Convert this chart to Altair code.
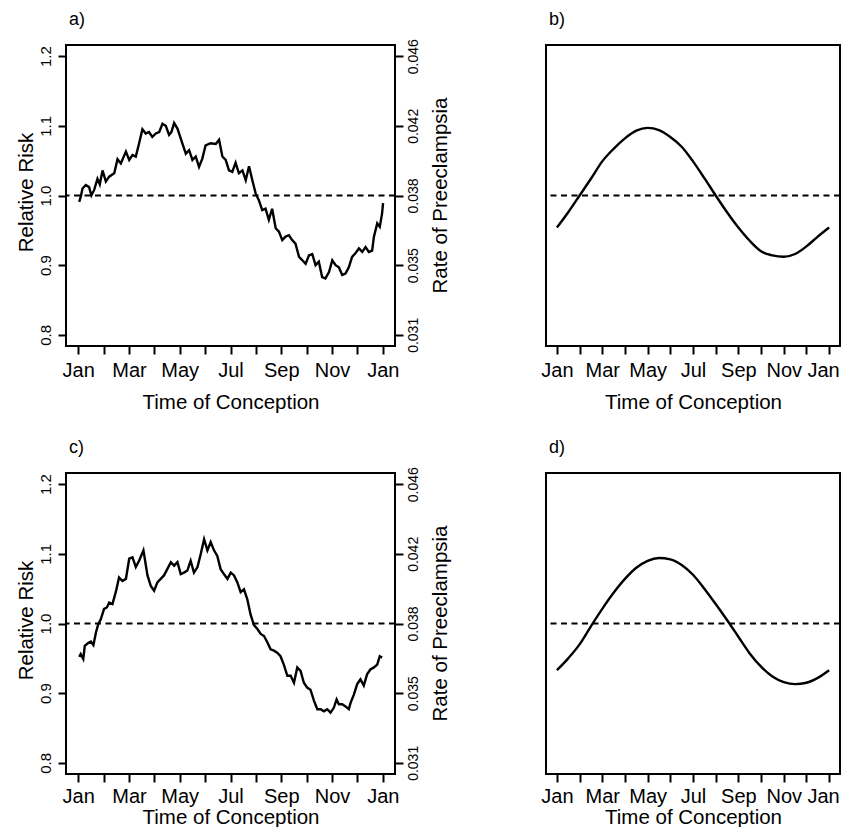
import json
import altair as alt
import pandas as pd

FONT = "Liberation Sans"

months = ["Jan", "Feb", "Mar", "Apr", "May", "Jun", "Jul", "Aug", "Sep", "Oct", "Nov", "Dec", "Jan"]
month_ticks = [0, 1, 2, 3, 4, 5, 6, 7, 8, 9, 10, 11, 12]
rr_ticks = [0.8, 0.9, 1.0, 1.1, 1.2]
rate_labels = ["0.031", "0.035", "0.038", "0.042", "0.046"]

# panel a) observed relative risk (month of conception, 0 = Jan)
a_t = [0.04, 0.10, 0.17, 0.30, 0.43, 0.52, 0.63, 0.76, 0.85, 0.96,
       1.09, 1.22, 1.42, 1.55, 1.68, 1.88, 2.01, 2.14, 2.27, 2.40,
       2.53, 2.66, 2.79, 2.92, 3.06, 3.19, 3.32, 3.45, 3.58, 3.67,
       3.78, 3.91, 4.10, 4.24, 4.37, 4.50, 4.63, 4.76, 4.89, 5.02,
       5.22, 5.42, 5.55, 5.68, 5.81, 5.94, 6.07, 6.20, 6.33, 6.47,
       6.60, 6.73, 6.86, 6.99, 7.12, 7.25, 7.38, 7.51, 7.64, 7.78,
       7.91, 8.04, 8.17, 8.30, 8.43, 8.56, 8.70, 8.83, 8.96, 9.09,
       9.22, 9.35, 9.48, 9.61, 9.74, 9.88, 10.01, 10.14, 10.27, 10.40,
       10.53, 10.66, 10.79, 10.92, 11.06, 11.19, 11.32, 11.45, 11.58, 11.65,
       11.78, 11.88, 11.97, 12.01]
a_rr = [0.991, 0.998, 1.010, 1.015, 1.012, 1.000, 1.008, 1.024, 1.016, 1.036,
        1.020, 1.027, 1.032, 1.052, 1.046, 1.063, 1.051, 1.058, 1.056, 1.075,
        1.095, 1.089, 1.091, 1.084, 1.089, 1.091, 1.103, 1.100, 1.087, 1.091,
        1.104, 1.096, 1.075, 1.060, 1.065, 1.051, 1.056, 1.041, 1.053, 1.072,
        1.075, 1.074, 1.080, 1.056, 1.051, 1.036, 1.034, 1.047, 1.032, 1.036,
        1.022, 1.042, 1.022, 1.003, 0.993, 0.979, 0.981, 0.965, 0.981, 0.953,
        0.948, 0.936, 0.941, 0.943, 0.936, 0.931, 0.912, 0.907, 0.902, 0.914,
        0.916, 0.900, 0.905, 0.883, 0.881, 0.890, 0.907, 0.900, 0.897, 0.886,
        0.888, 0.897, 0.912, 0.917, 0.924, 0.919, 0.926, 0.919, 0.921, 0.941,
        0.960, 0.955, 0.974, 0.989]

# panel c) observed relative risk
c_t = [0.04, 0.10, 0.20, 0.26, 0.39, 0.50, 0.60, 0.70, 0.79, 0.89,
       1.02, 1.13, 1.22, 1.35, 1.48, 1.61, 1.74, 1.88, 2.01, 2.14,
       2.27, 2.40, 2.57, 2.73, 2.86, 2.99, 3.12, 3.25, 3.38, 3.51,
       3.65, 3.78, 3.91, 4.04, 4.17, 4.30, 4.43, 4.56, 4.70, 4.83,
       4.96, 5.09, 5.22, 5.35, 5.48, 5.61, 5.74, 5.88, 6.01, 6.14,
       6.27, 6.40, 6.53, 6.66, 6.79, 6.92, 7.06, 7.19, 7.32, 7.45,
       7.58, 7.71, 7.84, 7.97, 8.10, 8.24, 8.37, 8.50, 8.63, 8.76,
       8.89, 9.02, 9.15, 9.29, 9.42, 9.55, 9.68, 9.81, 9.94, 10.07,
       10.18, 10.27, 10.40, 10.53, 10.66, 10.73, 10.86, 10.99, 11.12, 11.25,
       11.38, 11.51, 11.65, 11.78, 11.88, 11.97]
c_rr = [0.952, 0.956, 0.949, 0.968, 0.972, 0.974, 0.969, 0.987, 0.999, 1.006,
        1.021, 1.023, 1.030, 1.028, 1.045, 1.066, 1.061, 1.064, 1.093, 1.095,
        1.081, 1.090, 1.105, 1.069, 1.054, 1.047, 1.059, 1.064, 1.069, 1.078,
        1.088, 1.083, 1.088, 1.071, 1.073, 1.076, 1.090, 1.073, 1.081, 1.100,
        1.121, 1.105, 1.117, 1.105, 1.097, 1.078, 1.071, 1.064, 1.073, 1.069,
        1.059, 1.045, 1.049, 1.035, 1.013, 0.998, 0.992, 0.985, 0.982, 0.973,
        0.963, 0.961, 0.958, 0.953, 0.941, 0.925, 0.925, 0.915, 0.937, 0.932,
        0.915, 0.908, 0.905, 0.889, 0.877, 0.877, 0.874, 0.877, 0.872, 0.879,
        0.891, 0.884, 0.884, 0.881, 0.877, 0.886, 0.898, 0.913, 0.920, 0.911,
        0.927, 0.934, 0.937, 0.941, 0.953, 0.951]

# panels b) and d) fitted seasonal curves, read every half month
half_t = [0.0, 0.5, 1.0, 1.5, 2.0, 2.5, 3.0, 3.5, 4.0, 4.5, 5.0, 5.5, 6.0,
          6.5, 7.0, 7.5, 8.0, 8.5, 9.0, 9.5, 10.0, 10.5, 11.0, 11.5, 12.0]
b_rr = [0.954, 0.976, 1.000, 1.024, 1.049, 1.067, 1.082, 1.093, 1.097, 1.094, 1.084, 1.070, 1.049,
        1.025, 1.000, 0.976, 0.954, 0.935, 0.920, 0.914, 0.912, 0.916, 0.927, 0.941, 0.954]
d_rr = [0.933, 0.950, 0.970, 0.996, 1.021, 1.044, 1.064, 1.080, 1.090, 1.094, 1.092, 1.084, 1.070,
        1.050, 1.028, 1.005, 0.981, 0.957, 0.938, 0.924, 0.916, 0.913, 0.915, 0.922, 0.933]

X_DOMAIN = [-0.48, 12.48]
Y_DOMAIN = [0.784, 1.216]
H = 301

month_expr = "datum.value % 2 == 0 ? " + json.dumps(months) + "[datum.value] : ''"
rate_expr = json.dumps(rate_labels) + "[round(datum.value * 10) - 8]"


def panel(t, rr, label, width, right_axis, title_x, label_pad, interp,
          xlabel_pad, xtitle_y, last_shift):
    xs = alt.Scale(domain=X_DOMAIN, nice=False, zero=False)
    ys = alt.Scale(domain=Y_DOMAIN, nice=False, zero=False)
    x_axis = alt.Axis(
        values=month_ticks, labelExpr=month_expr, tickSize=8, tickWidth=2,
        tickColor="black", labelFont=FONT, labelFontSize=20, labelColor="black",
        labelBaseline="alphabetic", labelPadding=xlabel_pad, labelFlush=False,
        labelOverlap=False, labelBound=False, domain=False, grid=False,
        labelOffset={"condition": {"test": "datum.value == 12", "value": last_shift},
                     "value": 0},
        title="Time of Conception", titleFont=FONT, titleFontSize=20.5,
        titleFontWeight="normal", titleColor="black", titleBaseline="alphabetic",
        titleAlign="center", titleX=width / 2, titleY=xtitle_y)
    y_axis = alt.Axis(
        orient="left", values=rr_ticks, format=".1f", tickSize=8, tickWidth=2,
        tickColor="black", labelFont=FONT, labelFontSize=15, labelColor="black",
        labelAngle=270, labelAlign="center", labelBaseline="alphabetic",
        labelPadding=label_pad, labelFlush=False, labelOverlap=False,
        domain=False, grid=False, title="Relative Risk", titleFont=FONT,
        titleFontSize=20.5, titleFontWeight="normal", titleColor="black",
        titleAngle=270, titleAlign="center", titleBaseline="alphabetic",
        titleX=title_x, titleY=147)
    df = pd.DataFrame({"t": t, "rr": rr})
    line = alt.Chart(df).mark_line(
        color="black", strokeWidth=2.4, interpolate=interp
    ).encode(
        x=alt.X("t:Q", scale=xs, axis=x_axis),
        y=alt.Y("rr:Q", scale=ys, axis=y_axis),
    )
    ref = pd.DataFrame({"ref": [1.0]})
    if right_axis:
        r_axis = alt.Axis(
            orient="right", values=rr_ticks, labelExpr=rate_expr, tickSize=8,
            tickWidth=2, tickColor="black", labelFont=FONT, labelFontSize=14,
            labelColor="black", labelAngle=270, labelAlign="center",
            labelBaseline="alphabetic", labelPadding=14, labelFlush=False,
            labelOverlap=False, domain=False, grid=False,
            title="Rate of Preeclampsia", titleFont=FONT, titleFontSize=20.5,
            titleFontWeight="normal", titleColor="black", titleAngle=270,
            titleAlign="center", titleBaseline="alphabetic", titleX=51, titleY=150)
        rule_y = alt.Y("ref:Q", scale=ys, axis=r_axis)
    else:
        rule_y = alt.Y("ref:Q", scale=ys, axis=None)
    rule = alt.Chart(ref).mark_rule(
        color="black", strokeWidth=2, strokeDash=[6, 4.5]
    ).encode(y=rule_y)
    txt = alt.Chart(pd.DataFrame({"lab": [label]})).mark_text(
        align="left", baseline="alphabetic", font=FONT, fontSize=18, color="black"
    ).encode(text="lab:N", x=alt.value(3), y=alt.value(-20))
    layer = alt.layer(line, rule, txt).properties(width=width, height=H)
    if right_axis:
        layer = layer.resolve_scale(y="independent")
    return layer


pa = panel(a_t, a_rr, "a)", 329, True, -34, 8, "linear", 22, 62, 0)
pb = panel(half_t, b_rr, "b)", 294, False, -41, 8, "monotone", 22, 62, -6)
pc = panel(c_t, c_rr, "c)", 329, True, -34, 8, "linear", 20, 49, 0)
pd_ = panel(half_t, d_rr, "d)", 294, False, -41, 8, "monotone", 20, 49, -6)

chart = alt.concat(
    pa, pb, pc, pd_, columns=2,
    spacing={"row": 127, "column": 151}, bounds="flush"
).properties(
    autosize=alt.AutoSizeParams(type="none"),
    padding={"left": 58, "top": 37, "right": 775, "bottom": 782},
    background="white"
).configure_view(
    stroke="black", strokeWidth=2
)

chart.save("out.html", embed_options={"renderer": "svg", "actions": False})
